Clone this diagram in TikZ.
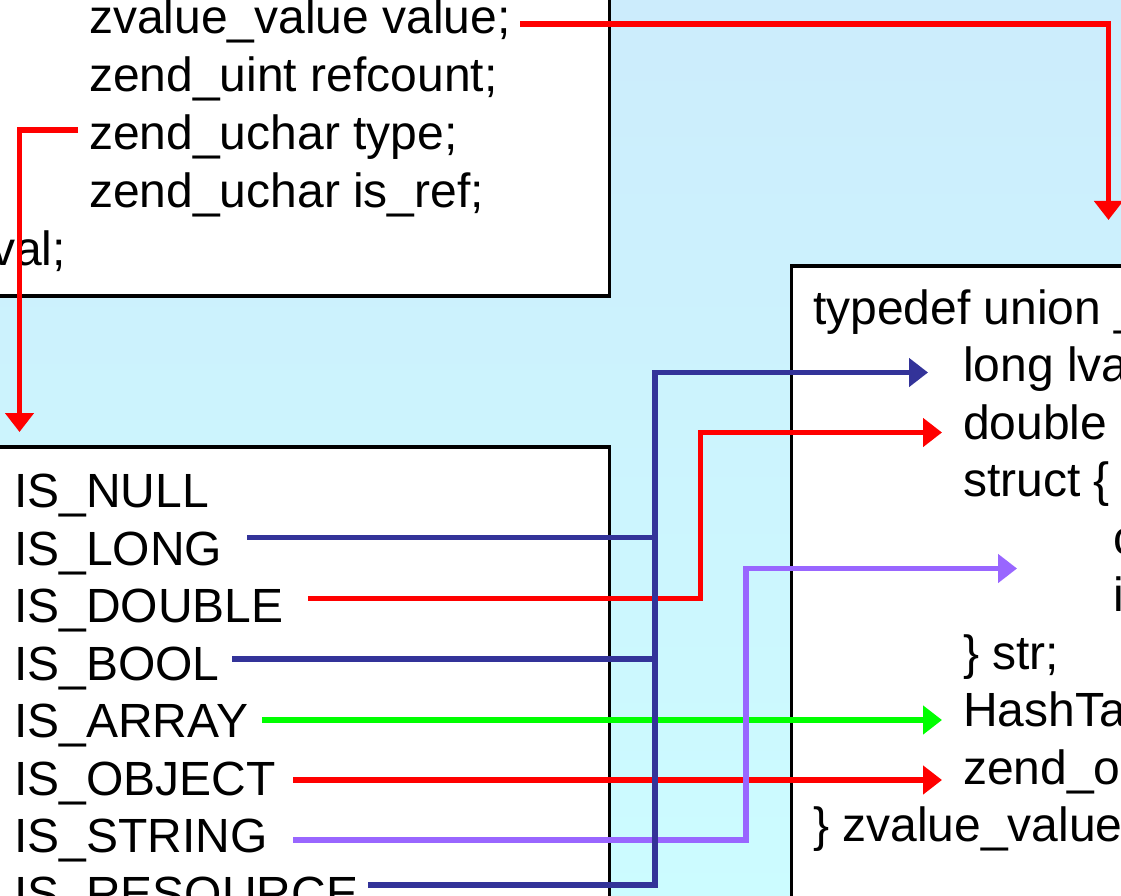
\documentclass[tikz,border=0pt]{standalone}
\usepackage{fontspec}
\setmainfont{Liberation Sans}
\usetikzlibrary{arrows.meta}
\definecolor{bgtop}{RGB}{204,236,252}
\definecolor{bgbot}{RGB}{204,252,255}
\definecolor{cblue}{RGB}{51,51,153}
\definecolor{cred}{RGB}{255,0,0}
\definecolor{cgreen}{RGB}{0,255,0}
\definecolor{cpurple}{RGB}{153,102,255}
\begin{document}
\begin{tikzpicture}[x=1pt,y=-1pt,
  box/.style={fill=white,draw=black,line width=3.5pt},
  code/.style={anchor=base west,inner sep=0pt,font=\fontsize{48}{57}\selectfont},
  conn/.style={line width=5.5pt,line join=miter},
  tip/.style={-{Triangle[length=19pt,width=28pt]}}
]
\useasboundingbox (0,0) rectangle (1121,896);
\clip (0,0) rectangle (1121,896);
\shade[top color=bgtop,bottom color=bgbot] (-5,-5) rectangle (1126,901);

% boxes
\path[box] (-60,-60) rectangle (609.5,296);
\path[box] (-60,447) rectangle (609.5,960);
\path[box] (791.5,266) rectangle (1200,960);

% top-left struct
\node[code] (zvalue) at (89,34) {zvalue\_value value;};
\node[code] (refcount) at (89,91.75) {zend\_uint refcount;};
\node[code] (type) at (89,149.5) {zend\_uchar type;};
\node[code] (isref) at (89,207.25) {zend\_uchar is\_ref;};
\node[code,anchor=base east] (zval) at (66,265) {\} zval;};

% type constants
\node[code] (null) at (14,507.5) {IS\_NULL};
\node[code] (long) at (14,565) {IS\_LONG};
\node[code] (double) at (14,622.5) {IS\_DOUBLE};
\node[code] (bool) at (14,680) {IS\_BOOL};
\node[code] (array) at (14,737.5) {IS\_ARRAY};
\node[code] (object) at (14,795) {IS\_OBJECT};
\node[code] (string) at (14,852.5) {IS\_STRING};
\node[code] (resource) at (14,910) {IS\_RESOURCE};

% union
\node[code] (union) at (813,324) {typedef union \_zvalue\_value \{};
\node[code] (lval) at (963,381.5) {long lval;};
\node[code] (dval) at (963,439) {double dval;};
\node[code] (struct) at (963,496.5) {struct \{};
\node[code] (val) at (1113,554) {char *val;};
\node[code] (len) at (1113,611.5) {int len;};
\node[code] (str) at (963,669) {\} str;};
\node[code] (ht) at (963,726.5) {HashTable *ht;};
\node[code] (obj) at (963,784) {zend\_object\_value obj;};
\node[code] (zvv) at (813,841.5) {\} zvalue\_value;};

% connector end points
\coordinate (zvalue-o) at (520,24);
\coordinate (union-i) at (1108.5,220);
\coordinate (type-o) at (78,130);
\coordinate (null-i) at (19.5,432);
\coordinate (long-o) at (247,537.5);
\coordinate (bool-o) at (232,659);
\coordinate (resource-o) at (368,885);
\coordinate (lval-i) at (928,372.5);
\coordinate (double-o) at (308,598.5);
\coordinate (dval-i) at (942,432.5);
\coordinate (array-o) at (262,720);
\coordinate (ht-i) at (942,720);
\coordinate (object-o) at (293,780);
\coordinate (obj-i) at (942,780);
\coordinate (string-o) at (293,840);
\coordinate (val-i) at (1017,568.5);

% connectors
\draw[conn,tip,cred] (zvalue-o) -| (union-i);
\draw[conn,tip,cred] (type-o) -| (null-i);
\draw[conn,tip,cgreen] (array-o) -- (ht-i);
\draw[conn,tip,cred] (object-o) -- (obj-i);
\draw[conn,tip,cred] (double-o) -- (700.5,598.5) |- (dval-i);
\draw[conn,tip,cpurple] (string-o) -- (746,840) |- (val-i);
\draw[conn,cblue] (long-o) -- (655,537.5);
\draw[conn,cblue] (bool-o) -- (655,659);
\draw[conn,tip,cblue] (resource-o) -- (655,885) |- (lval-i);
\end{tikzpicture}
\end{document}
